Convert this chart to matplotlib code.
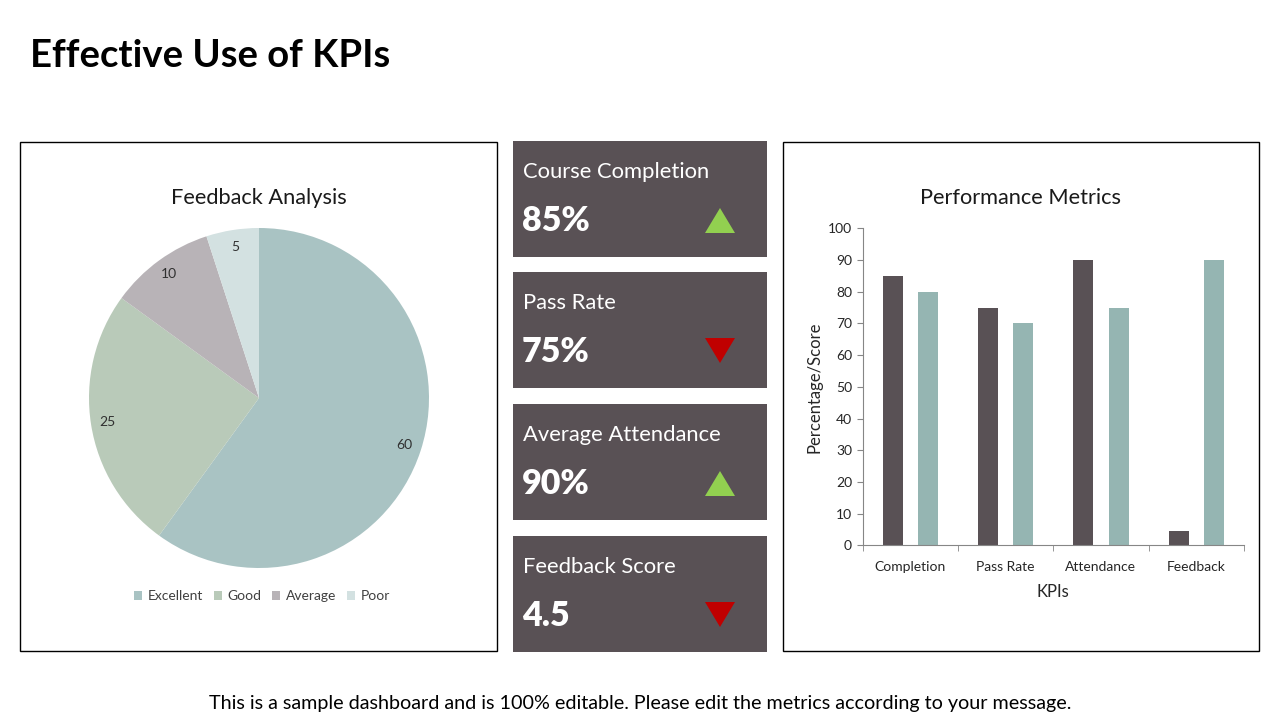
import matplotlib.pyplot as plt
from matplotlib.patches import Rectangle, Polygon
import numpy as np

plt.rcParams['font.family'] = ['Lato', 'DejaVu Sans']

# data
pie_labels = ['Excellent', 'Good', 'Average', 'Poor']
pie_values = [60, 25, 10, 5]
pie_colors = ['#a9c3c3', '#b9cab9', '#b8b3b7', '#d3e1e1']

kpi_names = ['Course Completion', 'Pass Rate', 'Average Attendance', 'Feedback Score']
kpi_values = ['85%', '75%', '90%', '4.5']
kpi_up = [True, False, True, False]

bar_cats = ['Completion', 'Pass Rate', 'Attendance', 'Feedback']
actual = [85, 75, 90, 4.5]
target = [80, 70, 75, 90]

W, H = 1280, 720
fig = plt.figure(figsize=(12.8, 7.2), dpi=100)
fig.patch.set_facecolor('white')


def px(x, y):
    # pixel coords (top-left origin) -> figure fraction
    return x / W, 1 - y / H


def box(x0, y0, x1, y1, fc='white', ec='black', lw=1):
    fig.patches.append(Rectangle(px(x0, y1), (x1 - x0) / W, (y1 - y0) / H,
                                 transform=fig.transFigure, facecolor=fc,
                                 edgecolor=ec, linewidth=lw, zorder=-5))


fig.text(*px(30, 56), 'Effective Use of KPIs', fontsize=27.5, fontweight='bold',
         va='center', ha='left', color='black')

# left panel
box(20, 142, 497, 651)
fig.text(*px(259, 198), 'Feedback Analysis', fontsize=15.7, ha='center',
         va='center', color='#1a1a1a')
cx, cy, r = 259, 398, 170
ax_pie = fig.add_axes([(cx - r) / W, 1 - (cy + r) / H, 2 * r / W, 2 * r / H])
total = sum(pie_values)
wedges, _, autot = ax_pie.pie(pie_values, colors=pie_colors, startangle=90,
                              counterclock=False, radius=1,
                              autopct=lambda p: f'{p * total / 100:.0f}',
                              pctdistance=0.9,
                              textprops=dict(fontsize=10, color='#303030'))
ax_pie.set_xlim(-1, 1)
ax_pie.set_ylim(-1, 1)
ax_pie.set_aspect('auto')
ax_pie.axis('off')
fig.legend(wedges, pie_labels, loc='center', bbox_to_anchor=px(262, 596),
           ncol=4, frameon=False, fontsize=10, handlelength=0.6,
           handleheight=0.6, handletextpad=0.4, columnspacing=0.75,
           labelcolor='#404040')

# KPI cards
card_y = [141, 272, 404, 536]
for i, y0 in enumerate(card_y):
    box(513, y0, 767, y0 + 116, fc='#595155', ec='none')
    fig.text(*px(523, y0 + 31), kpi_names[i], fontsize=15.8, color='white',
             ha='left', va='center')
    fig.text(*px(522, y0 + 80), kpi_values[i], fontsize=24.5, color='white',
             fontweight='heavy', ha='left', va='center')
    tx, ty = 720, y0 + 79
    if kpi_up[i]:
        pts = [px(tx - 15, ty + 13), px(tx + 15, ty + 13), px(tx, ty - 12)]
        col = '#92d050'
    else:
        pts = [px(tx - 15, ty - 13), px(tx + 15, ty - 13), px(tx, ty + 12)]
        col = '#c00000'
    fig.patches.append(Polygon(pts, closed=True, transform=fig.transFigure,
                               facecolor=col, edgecolor='none', zorder=2))

# right panel
box(783, 142, 1259, 651)
fig.text(*px(1021, 198), 'Performance Metrics', fontsize=15.7, ha='center',
         va='center', color='#1a1a1a')
ax = fig.add_axes([862.5 / W, 1 - 545.3 / H, (1244 - 862.5) / W, (545.3 - 228.3) / H])
ax.set_facecolor('none')
x = np.arange(len(bar_cats))
ax.bar(x - 0.185, actual, width=0.21, color='#595155')
ax.bar(x + 0.185, target, width=0.21, color='#95b5b2')
ax.set_xlim(-0.5, len(bar_cats) - 0.5)
ax.set_ylim(0, 100)
ax.set_yticks(range(0, 101, 10))
ax.set_xticks(x)
ax.set_xticklabels(bar_cats)
ax.set_xticks(np.arange(-0.5, len(bar_cats), 1), minor=True)
ax.tick_params(axis='x', which='major', length=0, pad=11, labelsize=10,
               labelcolor='#262626')
ax.tick_params(axis='x', which='minor', length=4, color='#868686')
ax.tick_params(axis='y', length=4, color='#868686', labelsize=10,
               labelcolor='#262626')
for s in ['top', 'right']:
    ax.spines[s].set_visible(False)
for s in ['left', 'bottom']:
    ax.spines[s].set_color('#868686')
ax.set_xlabel('KPIs', fontsize=12, color='#262626', labelpad=8)
ax.set_ylabel('Percentage/Score', fontsize=12, color='#262626', labelpad=4)

fig.text(*px(640, 703), 'This is a sample dashboard and is 100% editable. '
         'Please edit the metrics according to your message.',
         fontsize=14.2, ha='center', va='center', color='black')

fig.savefig('out.png', dpi=100)
